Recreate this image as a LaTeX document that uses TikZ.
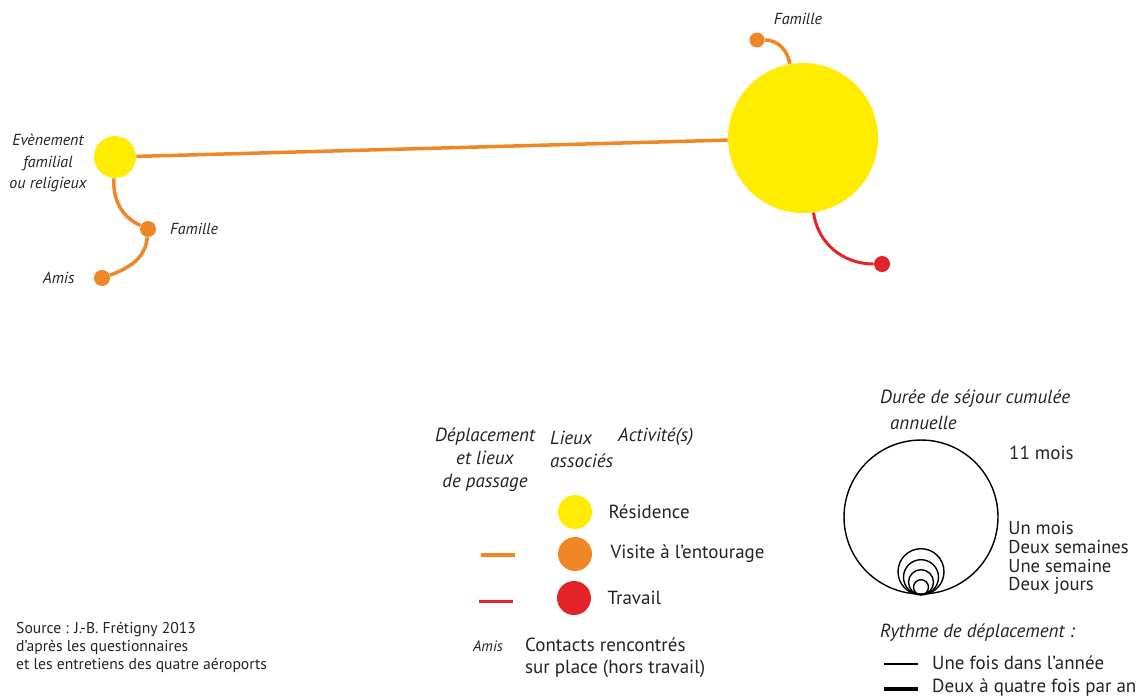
\documentclass[tikz,border=0pt]{standalone}
\usepackage{fontspec}
\setmainfont{PT Sans}
\usetikzlibrary{positioning}
\definecolor{jaune}{RGB}{255,236,0}
\definecolor{visiteorange}{RGB}{239,135,38}
\definecolor{travailrouge}{RGB}{226,36,40}
\definecolor{texte}{RGB}{35,35,35}

\begin{document}
\begin{tikzpicture}[x=0.02cm, y=-0.02cm, font=\fontsize{10.8}{13}\selectfont, text=texte,
    residence/.style={circle, fill=jaune, inner sep=0pt},
    visite/.style={circle, fill=visiteorange, inner sep=0pt, minimum size=0.32cm},
    travail/.style={circle, fill=travailrouge, inner sep=0pt, minimum size=0.32cm},
    trajet/.style={draw=visiteorange, line width=2pt},
    trajetpro/.style={draw=travailrouge, line width=1.7pt},
    lieu/.style={font=\fontsize{9.1}{12}\selectfont\itshape},
    titre/.style={font=\fontsize{10.8}{13}\selectfont\itshape, align=center},
    cercle/.style={draw=black, line width=0.8pt}]
    \useasboundingbox (0,0) rectangle (1136,698);
    % carte
    \node[residence, minimum size=3cm] (domicile) at (803,138) {};
    \node[residence, minimum size=0.84cm] (evt) at (115,157) {};
    \node[visite, minimum size=0.3cm] (famhaut) at (757,40) {};
    \node[travail] (travail) at (882,264) {};
    \node[visite] (famille) at (148,229) {};
    \node[visite] (amis) at (102,278) {};
    % trajets
    \draw[trajet] (evt) -- (domicile);
    \draw[trajet] (domicile) to[out=100, in=0] (famhaut);
    \draw[trajetpro] (domicile) to[out=-82, in=180] (travail);
    \draw[trajet] (evt) to[out=-93, in=155] (famille);
    \draw[trajet] (famille) to[out=-95, in=20] (amis);
    % noms des lieux
    \node[lieu] (lblfamhaut) at (798,19) {Famille};
    \node[lieu, align=center] (lblevt) at (48,163) {Evènement\\familial\\ou religieux};
    \node[lieu, right=0.15cm of famille] (lblfamille) {Famille};
    \node[lieu, left=0.26cm of amis] (lblamis) {Amis};

    % legende
    \node[titre] (deplacement) at (485,460) {Déplacement\\et lieux\\de passage};
    \node[titre, align=left, anchor=west] (lieux) at (544,449) {Lieux\\associés};
    \node[titre, anchor=west] (activite) at (612,437) {Activité(s)};
    \node[residence, minimum size=0.68cm] (legres) at (575,512) {};
    \node[visite, minimum size=0.68cm] (legvis) at (575,554) {};
    \node[travail, minimum size=0.68cm] (legtra) at (574,598) {};
    \node[right=0.2cm of legres] (txtres) {Résidence};
    \node[right=0.24cm of legvis] (txtvis) {Visite à l’entourage};
    \node[right=0.2cm of legtra] (txttra) {Travail};
    \coordinate (visA) at (481,555);
    \coordinate (visB) at (515,555);
    \coordinate (traA) at (479,601);
    \coordinate (traB) at (513,601);
    \draw[trajet] (visA) -- (visB);
    \draw[trajetpro] (traA) -- (traB);
    \node[font=\fontsize{8.6}{10}\selectfont\itshape] (legamis) at (488,646) {Amis};
    \node[anchor=west, align=left, font=\fontsize{10.8}{12.5}\selectfont] (contacts) at (519,658) {Contacts rencontrés\\sur place (hors travail)};
    \node[anchor=west, align=left, font=\fontsize{8.9}{10.2}\selectfont] (source) at (10,647) {Source : J.-B. Frétigny 2013\\d’après les questionnaires\\et les entretiens des quatre aéroports};

    % duree de sejour
    \node[titre, anchor=west] (duree) at (874,399) {Durée de séjour cumulée};
    \node[titre, anchor=west] (annuelle) at (884,423) {annuelle};
    \node[cercle, circle, inner sep=0pt, minimum size=3.08cm] (onzemois) at (921,517) {};
    \foreach \r in {23,17.5,12.5,7.5}
        \draw[cercle] (onzemois.south) ++(0,-\r) circle[radius=\r*0.02cm];
    \node[anchor=west] (m11) at (1003,453) {11 mois};
    \node[anchor=north west, align=left, inner sep=0pt, font=\fontsize{10.6}{10.8}\selectfont] (durees) at (1008,521) {Un mois\\Deux semaines\\Une semaine\\[-0.4pt]Deux jours};

    % rythme
    \node[titre, anchor=west] (rythme) at (874,633) {Rythme de déplacement :};
    \coordinate (unA) at (884,664);
    \coordinate (unB) at (918,664);
    \coordinate (deuxA) at (884,689);
    \coordinate (deuxB) at (918,689);
    \draw[line width=1.1pt] (unA) -- (unB);
    \draw[line width=2pt] (deuxA) -- (deuxB);
    \node[anchor=west] (fois1) at (926,663) {Une fois dans l’année};
    \node[anchor=west] (fois2) at (926,688) {Deux à quatre fois par an};
\end{tikzpicture}
\end{document}
